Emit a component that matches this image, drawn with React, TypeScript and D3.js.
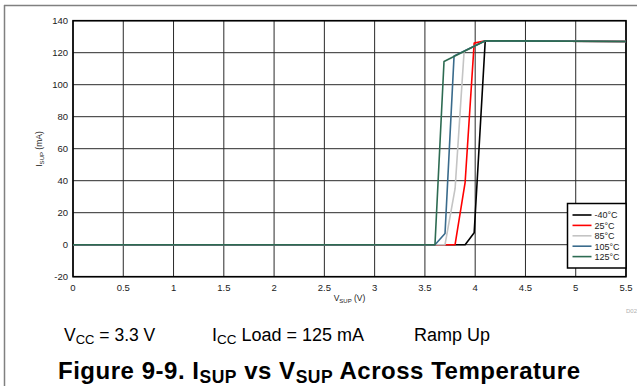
import React from 'react';
import * as d3 from 'd3';

const xTicks = [0, 0.5, 1, 1.5, 2, 2.5, 3, 3.5, 4, 4.5, 5, 5.5];
const xTickLabels = ['0', '0.5', '1', '1.5', '2', '2.5', '3', '3.5', '4', '4.5', '5', '5.5'];
const yTicks = [-20, 0, 20, 40, 60, 80, 100, 120, 140];

const temps = ['-40°C', '25°C', '85°C', '105°C', '125°C'];
const colors = ['#000000', '#ff0000', '#c4c4c4', '#3a6b8c', '#2d6b52'];

const vM40 = [0, 3.9, 3.99, 4.1, 5.5];
const iM40 = [0, 0, 7.5, 127.5, 127];
const v25 = [0, 3.8, 3.9, 3.99, 4.1, 5.5];
const i25 = [0, 0, 39, 126, 127.5, 127];
const v85 = [0, 3.7, 3.8, 3.89, 4.1, 5.5];
const i85 = [0, 0, 35, 121, 127.5, 127];
const v105 = [0, 3.6, 3.7, 3.79, 4.1, 5.5];
const i105 = [0, 0, 7, 118, 127.5, 127];
const v125 = [0, 3.6, 3.69, 4.1, 5.5];
const i125 = [0, 0, 114.5, 127.5, 127];

const seriesV = [vM40, v25, v85, v105, v125];
const seriesI = [iM40, i25, i85, i105, i125];

export default function App() {
  const x = d3.scaleLinear().domain([0, 5.5]).range([73, 626]);
  const y = d3.scaleLinear().domain([-20, 140]).range([276.7, 20.7]);
  const line = d3
    .line<[number, number]>()
    .x((d) => x(d[0]))
    .y((d) => y(d[1]));

  const font = '"Liberation Sans", Arial, sans-serif';
  const legendX = 567.5;
  const legendY = 203.5;

  return (
    <svg
      width={637}
      height={386}
      style={{ position: 'absolute', left: 0, top: 0, background: '#fff' }}
      fontFamily={font}
    >
      <rect x={0} y={0} width={637} height={386} fill="#fff" />
      {/* outer frame */}
      <line x1={4.5} y1={5} x2={4.5} y2={386} stroke="#808080" strokeWidth={1.5} />
      <line x1={4} y1={5.5} x2={637} y2={5.5} stroke="#808080" strokeWidth={1.5} />

      {/* grid */}
      {xTicks.map((t) => (
        <line key={'gx' + t} x1={x(t)} x2={x(t)} y1={y(140)} y2={y(-20)} stroke="#2a2a2a" strokeWidth={1} />
      ))}
      {yTicks.map((t) => (
        <line key={'gy' + t} x1={x(0)} x2={x(5.5)} y1={y(t)} y2={y(t)} stroke="#2a2a2a" strokeWidth={1} />
      ))}
      <rect
        x={x(0)}
        y={y(140)}
        width={x(5.5) - x(0)}
        height={y(-20) - y(140)}
        fill="none"
        stroke="#000"
        strokeWidth={1.6}
      />

      {/* tick labels */}
      {yTicks.map((t) => (
        <text key={'ty' + t} x={68} y={y(t) + 3.5} textAnchor="end" fontSize={9.5} fill="#222">
          {t}
        </text>
      ))}
      {xTicks.map((t, i) => (
        <text key={'tx' + t} x={x(t)} y={291} textAnchor="middle" fontSize={9.5} fill="#222">
          {xTickLabels[i]}
        </text>
      ))}

      {/* axis labels */}
      <text x={349.5} y={301} textAnchor="middle" fontSize={8.5} fill="#222">
        V<tspan fontSize={6} dy={1.5}>SUP</tspan>
        <tspan dy={-1.5}> (V)</tspan>
      </text>
      <text transform="translate(42,149) rotate(-90)" textAnchor="middle" fontSize={8.5} fill="#222">
        I<tspan fontSize={6} dy={1.5}>SUP</tspan>
        <tspan dy={-1.5}> (mA)</tspan>
      </text>
      <text x={626} y={313} fontSize={6} fill="#b0b0b0">
        D026
      </text>

      {/* series */}
      {seriesV.map((vs, si) => (
        <path
          key={'s' + si}
          d={line(vs.map((v, k) => [v, seriesI[si][k]] as [number, number])) || ''}
          fill="none"
          stroke={colors[si]}
          strokeWidth={1.6}
          strokeLinejoin="round"
        />
      ))}

      {/* legend */}
      <rect x={legendX} y={legendY} width={x(5.5) - legendX} height={64.5} fill="#fff" stroke="#000" strokeWidth={1.5} />
      {temps.map((t, i) => {
        const ly = legendY + 11.5 + i * 10.4;
        return (
          <g key={'lg' + t}>
            <line x1={572.5} x2={591.5} y1={ly} y2={ly} stroke={colors[i]} strokeWidth={1.6} />
            <text x={594.5} y={ly + 3.3} fontSize={9} fill="#222">
              {t}
            </text>
          </g>
        );
      })}

      {/* caption */}
      <text x={64} y={341} fontSize={17.5} fill="#000">
        V<tspan fontSize={13} dy={3}>CC</tspan>
        <tspan dy={-3}> = 3.3 V</tspan>
      </text>
      <text x={212} y={341} fontSize={18} fill="#000">
        I<tspan fontSize={13.5} dy={3}>CC</tspan>
        <tspan dy={-3}> Load = 125 mA</tspan>
      </text>
      <text x={414} y={341} fontSize={18} fill="#000">
        Ramp Up
      </text>
      <text x={58} y={379} fontSize={24} fontWeight="bold" fill="#000" textLength={522} lengthAdjust="spacing">
        Figure 9-9. I<tspan fontSize={17.5} dy={4}>SUP</tspan>
        <tspan dy={-4}> vs V</tspan>
        <tspan fontSize={17.5} dy={4}>SUP</tspan>
        <tspan dy={-4}> Across Temperature</tspan>
      </text>
    </svg>
  );
}
